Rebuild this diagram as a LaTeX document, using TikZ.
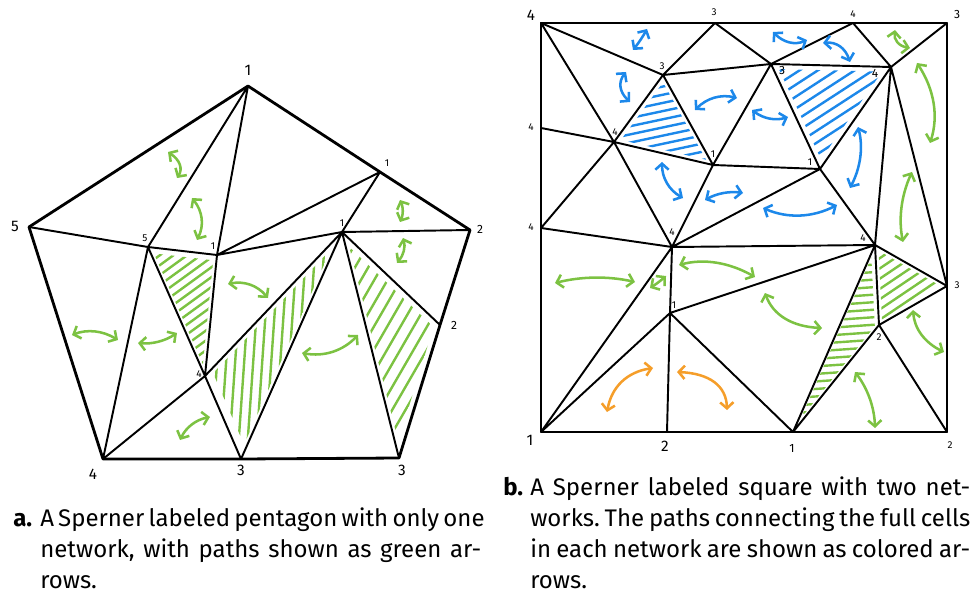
\documentclass[tikz,border=0pt]{standalone}
\usepackage{fontspec}
\setmainfont{Fira Sans}
\usetikzlibrary{calc,arrows.meta}
\definecolor{lgreen}{RGB}{124,194,66}
\definecolor{lblue}{RGB}{28,136,234}
\definecolor{lorange}{RGB}{245,158,42}
\frenchspacing
\newcommand\hatchtri[6]{%
  \begin{scope}
    \coordinate (G) at ($0.3333*(#1)+0.3333*(#2)+0.3334*(#3)$);
    \clip ($(G)!0.86!(#1)$) -- ($(G)!0.86!(#2)$) -- ($(G)!0.86!(#3)$) -- cycle;
    \foreach \k in {-22,...,22}
      \draw[hatchline,#6] ($(G)+({\k*#5*sin(#4)},{\k*#5*cos(#4)})+({-220*cos(#4)},{220*sin(#4)})$) -- ++({440*cos(#4)},{-440*sin(#4)});
  \end{scope}}
\newcommand\darr[4]{\draw[arr,#1] (#2) .. controls ($(#2)!0.6667!(#4)$) and ($(#3)!0.6667!(#4)$) .. (#3);}
\begin{document}
\begin{tikzpicture}[x=0.75pt,y=-0.75pt,
  edge/.style={line width=1.45pt, line join=round, line cap=round},
  outer/.style={line width=2.1pt, line join=round, line cap=round},
  hatchline/.style={line width=1.8pt, line cap=round},
  arr/.style={line width=1.9pt, line cap=round,
    arrows={Straight Barb[length=4.5pt,width=10pt]-Straight Barb[length=4.5pt,width=10pt]}},
  labL/.style={inner sep=0pt, font=\fontsize{11.5}{11.5}\selectfont},
  labM/.style={inner sep=0pt, font=\fontsize{9}{9}\selectfont},
  labS/.style={inner sep=0pt, font=\fontsize{7.5}{7.5}\selectfont},
  capt/.style={inner sep=0pt, anchor=base west, font=\fontsize{18}{18}\selectfont}]
\useasboundingbox (0,0) rectangle (977,595);

% ---------------- (a) pentagon ----------------
\coordinate (P1) at (248,86);
\coordinate (P5) at (29,227);
\coordinate (P2) at (470,230);
\coordinate (P4) at (103,459);
\coordinate (P3) at (399,458);
\coordinate (A) at (380,172);
\coordinate (B) at (440,325);
\coordinate (C) at (241,459);
\coordinate (S5) at (148,247);
\coordinate (I1) at (217,255);
\coordinate (D) at (342,232);
\coordinate (I4) at (205,376);

\hatchtri{S5}{I1}{I4}{36}{8}{lgreen}
\hatchtri{I4}{D}{C}{86}{9}{lgreen}
\hatchtri{D}{B}{P3}{60}{11.5}{lgreen}

\draw[edge] (P1)--(S5) (P1)--(I1) (P5)--(S5) (S5)--(I1) (I1)--(A) (I1)--(D)
  (D)--(A) (D)--(P2) (D)--(B) (D)--(P3) (D)--(C) (D)--(I4) (I1)--(I4)
  (S5)--(I4) (I4)--(C) (S5)--(P4) (P4)--(I4);
\draw[outer] (P1)--(A)--(P2)--(B)--(P3)--(C)--(P4)--(P5)--cycle;

\node[labL] (lP1) at (248,70) {1};
\node[labL] (lP5) at (15,226) {5};
\node[labM] (lP2) at (480,229) {2};
\node[labL] (lP4) at (93,474) {4};
\node[labL] (lC) at (241,470) {3};
\node[labL] (lP3) at (402,470) {3};
\node[labS] (lS5) at (145,238) {5};
\node[labS] (lI1) at (213,246) {1};
\node[labS] (lA) at (387,163) {1};
\node[labS] (lD) at (342,223) {1};
\node[labM] (lB) at (454,325) {2};
\node[labS] (lI4) at (199,374) {4};

\darr{lgreen}{168,152}{177,178}{186,164}
\darr{lgreen}{192,198}{197,240}{208,218}
\darr{lgreen}{400,200}{400,222}{405,211}
\darr{lgreen}{403,238}{397,263}{407,251}
\darr{lgreen}{72,335}{118,340}{95,326}
\darr{lgreen}{138,343}{177,333}{159,345}
\darr{lgreen}{180,440}{210,417}{189,421}
\darr{lgreen}{228,284}{268,298}{252,279}
\darr{lgreen}{302,353}{358,335}{335,359}

% ---------------- (b) square ----------------
\coordinate (TL) at (541,23);
\coordinate (T3) at (715,23);
\coordinate (T4) at (853,23);
\coordinate (TR) at (947,23);
\coordinate (R3) at (947,286);
\coordinate (BR) at (947,432);
\coordinate (B1) at (793,432);
\coordinate (B2) at (667,432);
\coordinate (BL) at (541,432);
\coordinate (L4b) at (541,228);
\coordinate (L4a) at (541,128);
\coordinate (V3a) at (663,75);
\coordinate (V4a) at (614,142);
\coordinate (V1a) at (713,165);
\coordinate (V4b) at (672,247);
\coordinate (V1b) at (670,313);
\coordinate (V3b) at (771,64);
\coordinate (V4c) at (891,67);
\coordinate (V1c) at (820,169);
\coordinate (V4d) at (875,245);
\coordinate (V2) at (879,325);

\hatchtri{V3a}{V4a}{V1a}{12}{8}{lblue}
\hatchtri{V3b}{V4c}{V1c}{33}{10}{lblue}
\hatchtri{V4d}{V2}{R3}{34}{8.5}{lgreen}
\hatchtri{V4d}{B1}{V2}{4}{7.5}{lgreen}

\draw[edge] (TL)--(V3a) (TL)--(V4a) (T3)--(V3a) (T3)--(V3b) (V3a)--(V3b)
  (V3a)--(V4a) (V3a)--(V1a) (V4a)--(V1a) (L4a)--(V4a) (L4b)--(V4a)
  (V4a)--(V4b) (L4b)--(V4b) (V1a)--(V4b) (V1a)--(V3b) (V1a)--(V1c)
  (V4b)--(V1c) (V4b)--(V4d) (V3b)--(T4) (V3b)--(V4c) (V3b)--(V1c)
  (T4)--(V4c) (V4c)--(TR) (V4c)--(V1c) (V4c)--(V4d) (V4c)--(R3)
  (V1c)--(V4d) (V4b)--(BL) (V4b)--(V1b) (V1b)--(BL) (V1b)--(B2)
  (V1b)--(B1) (V1b)--(V4d) (V4d)--(B1) (V4d)--(V2) (V4d)--(R3)
  (V2)--(R3) (V2)--(B1) (V2)--(BR);
\draw[outer, line width=1.8pt] (TL)--(T3)--(T4)--(TR)--(R3)--(BR)--(B1)--(B2)--(BL)--(L4b)--(L4a)--cycle;

\node[labL] (lTL) at (531,15) {4};
\node[labS] (lT3) at (714,12) {3};
\node[labS] (lT4) at (853,14) {4};
\node[labM] (lTR) at (957,15) {3};
\node[labS] (lL4a) at (531,127) {4};
\node[labS] (lL4b) at (531,227) {4};
\node[labL] (lBL) at (530,440) {1};
\node[labL] (lB2) at (665,446) {2};
\node[labM] (lB1) at (792,448) {1};
\node[labS] (lBR) at (950,445) {2};
\node[labS] (lR3) at (957,285) {3};
\node[labS] (lV3a) at (662,66) {3};
\node[labS] (lV4a) at (615,132) {4};
\node[labS] (lV1a) at (713,154) {1};
\node[labS] (lV4b) at (672,232) {4};
\node[labS] (lV1b) at (674,305) {1};
\node[labM] (lV3b) at (782,71) {3};
\node[labM] (lV4c) at (875,73) {4};
\node[labS] (lV1c) at (810,162) {1};
\node[labS] (lV4d) at (863,238) {4};
\node[labS] (lV2) at (879,337) {2};

% blue network
\darr{lblue}{633,50}{647,29}{641,40}
\darr{lblue}{626,72}{630,102}{614,87}
\darr{lblue}{695,110}{737,98}{713,92}
\darr{lblue}{662,162}{683,198}{662,186}
\darr{lblue}{705,200}{743,193}{723,190}
\darr{lblue}{773,32}{807,40}{789,48}
\darr{lblue}{823,43}{850,62}{843,41}
\darr{lblue}{752,110}{788,117}{769,123}
\darr{lblue}{858,127}{850,188}{866,157}
\darr{lblue}{763,208}{837,205}{800,224}
% green network
\darr{lgreen}{895,30}{910,48}{893,45}
\darr{lgreen}{917,63}{930,143}{943,103}
\darr{lgreen}{912,172}{903,242}{896,207}
\darr{lgreen}{555,283}{635,282}{595,273}
\darr{lgreen}{650,288}{666,276}{658,283}
\darr{lgreen}{679,265}{755,277}{716,255}
\darr{lgreen}{765,293}{822,328}{777,326}
\darr{lgreen}{913,310}{944,352}{915,338}
\darr{lgreen}{855,372}{875,428}{874,397}
% orange
\darr{lorange}{607,412}{653,368}{614,374}
\darr{lorange}{677,372}{727,410}{726,374}

% ---------------- captions ----------------
\node[capt] (ca) at (13,526) {\textbf{a.}};
\node[capt] (ca1) at (40,526) {\makebox[330.75pt][s]{A Sperner labeled pentagon with only one}};
\node[capt] (ca2) at (40,557) {\makebox[330.75pt][s]{network, with paths shown as green ar-}};
\node[capt] (ca3) at (40,588) {rows.};

\node[capt] (cb) at (503,495) {\textbf{b.}};
\node[capt] (cb1) at (530,495) {\makebox[330pt][s]{A Sperner labeled square with two net-}};
\node[capt] (cb2) at (530,526) {\makebox[330pt][s]{works. The paths connecting the full cells}};
\node[capt] (cb3) at (530,557) {\makebox[330pt][s]{in each network are shown as colored ar-}};
\node[capt] (cb4) at (530,588) {rows.};
\end{tikzpicture}
\end{document}
